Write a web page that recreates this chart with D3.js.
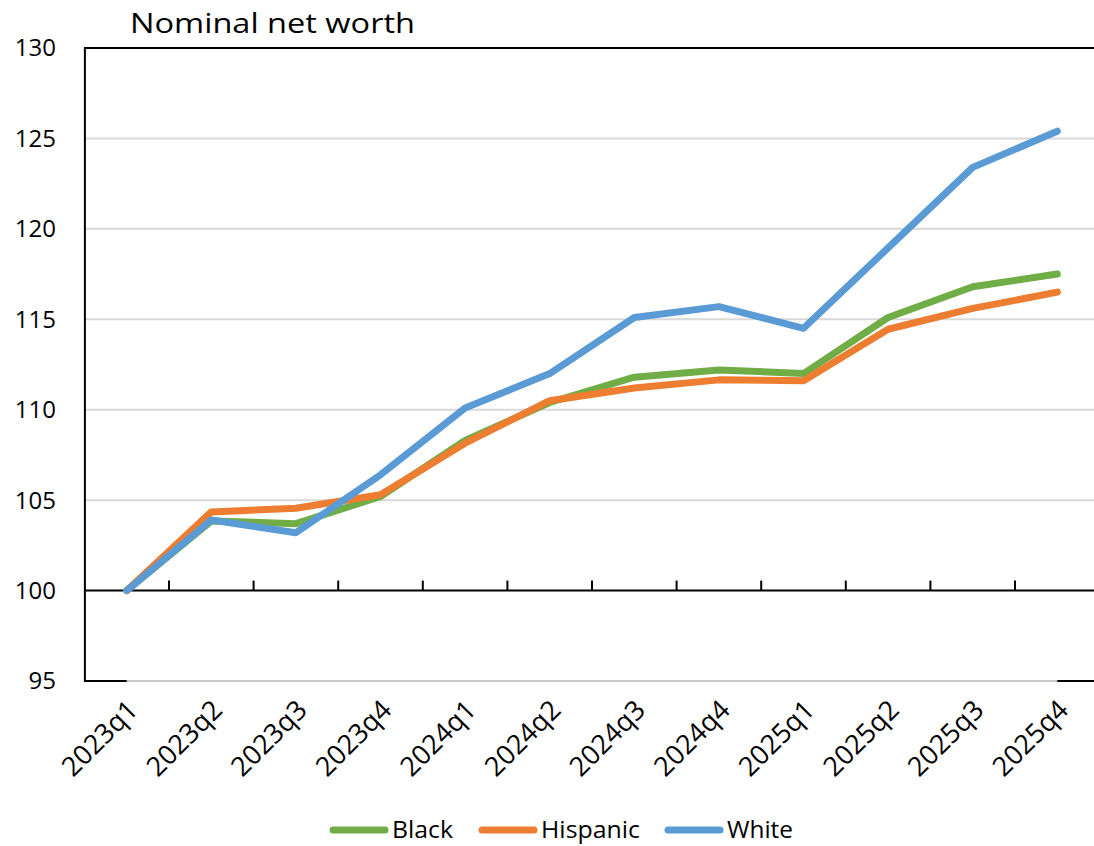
<!DOCTYPE html>
<html><head><meta charset="utf-8">
<script src="https://cdn.jsdelivr.net/npm/d3@7"></script>
<style>body{margin:0;background:#fff}svg{display:block}text{font-family:"Open Sans",sans-serif;fill:#000}</style>
</head><body><svg id="c" width="1094" height="846"></svg>
<script>
const categories = ["2023q1","2023q2","2023q3","2023q4","2024q1","2024q2","2024q3","2024q4","2025q1","2025q2","2025q3","2025q4"];
const black    = [100,103.85,103.7,105.2,108.3,110.4,111.8,112.2,112.0,115.1,116.8,117.5];
const hispanic = [100,104.35,104.55,105.3,108.15,110.5,111.2,111.65,111.6,114.45,115.6,116.5];
const white    = [100,103.9,103.2,106.4,110.1,112.0,115.1,115.7,114.5,118.95,123.4,125.4];
const yTicks = [95,100,105,110,115,120,125,130];
const seriesNames = ["Black","Hispanic","White"];
const colors = ["#70AD47","#ED7D31","#5B9BD5"];
const seriesData = [black, hispanic, white];

const svg = d3.select("#c");
const L = 84.4, R = 1099.6, T = 48, B = 681;
const x = d3.scaleBand().domain(categories).range([L, R]);
const y = d3.scaleLinear().domain([95,130]).range([B, T]);
const cx = d => x(d) + x.bandwidth()/2;

// gridlines
svg.append("g").selectAll("line").data(yTicks.filter(v => v!==100 && v!==130 && v!==95)).join("line")
  .attr("x1", L).attr("x2", 1094).attr("y1", d=>y(d)).attr("y2", d=>y(d))
  .attr("stroke", "#d9d9d9").attr("stroke-width", 2);
// bottom gray line at 95 with black ends
svg.append("line").attr("x1", L).attr("x2", 1094).attr("y1", y(95)).attr("y2", y(95)).attr("stroke","#c8c8c8").attr("stroke-width",2);
svg.append("line").attr("x1", L).attr("x2", cx(categories[0])).attr("y1", y(95)).attr("y2", y(95)).attr("stroke","#000").attr("stroke-width",2);
svg.append("line").attr("x1", cx(categories[categories.length-1])).attr("x2", 1094).attr("y1", y(95)).attr("y2", y(95)).attr("stroke","#000").attr("stroke-width",2);
// top border
svg.append("line").attr("x1", L).attr("x2", 1094).attr("y1", y(130)).attr("y2", y(130)).attr("stroke","#000").attr("stroke-width",2);
// left axis
svg.append("line").attr("x1", L+0.5).attr("x2", L+0.5).attr("y1", y(130)-1).attr("y2", y(95)+1).attr("stroke","#000").attr("stroke-width",2);

// y labels
svg.append("g").selectAll("text").data(yTicks).join("text")
  .attr("x", 56).attr("y", d=>y(d)).attr("dy","0.35em").attr("text-anchor","end")
  .attr("font-size", 24).text(d=>d);

// x axis at 100
const xa = svg.append("g").attr("transform", `translate(0,${y(100)})`);
xa.append("line").attr("x1", L).attr("x2", 1094).attr("stroke","#000").attr("stroke-width",2);
xa.selectAll("line.t").data(categories.slice(1)).join("line").attr("class","t")
  .attr("x1", d=>x(d)).attr("x2", d=>x(d)).attr("y1",-10).attr("y2",0).attr("stroke","#000").attr("stroke-width",2);

// x labels
svg.append("g").selectAll("text").data(categories).join("text")
  .attr("transform", d=>`translate(${cx(d)+6},${B+24}) rotate(-45)`)
  .attr("text-anchor","end").attr("dy","0.35em").attr("font-size",27).text(d=>d);

// lines
const line = d3.line().x((d,i)=>cx(categories[i])).y(d=>y(d));
svg.append("g").selectAll("path").data(seriesData).join("path")
  .attr("d", d=>line(d)).attr("fill","none").attr("stroke",(d,i)=>colors[i])
  .attr("stroke-width",7).attr("stroke-linejoin","round").attr("stroke-linecap","round");

// title
svg.append("text").attr("x",130).attr("y",33).attr("font-size",28)
  .attr("textLength",285).attr("lengthAdjust","spacingAndGlyphs").text("Nominal net worth");

// legend
const legX = [330, 479, 665];
const legW = [61, 99, 66];
const lg = svg.append("g").selectAll("g").data(seriesNames).join("g")
  .attr("transform",(d,i)=>`translate(${legX[i]},830)`);
lg.append("line").attr("x1",3).attr("x2",55).attr("stroke",(d,i)=>colors[i]).attr("stroke-width",7).attr("stroke-linecap","round");
lg.append("text").attr("x",62).attr("dy","0.35em").attr("font-size",24)
  .attr("textLength",(d,i)=>legW[i]).attr("lengthAdjust","spacingAndGlyphs").text(d=>d);
</script></body></html>
